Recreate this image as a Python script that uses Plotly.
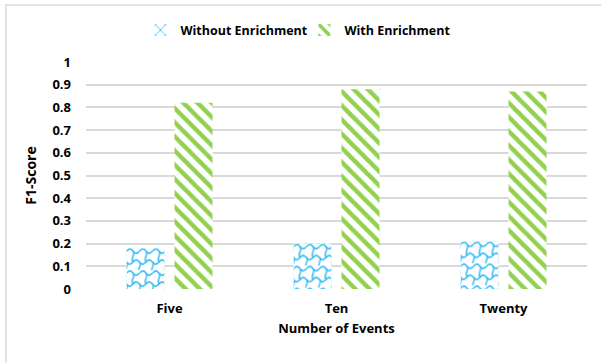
import base64
import plotly.graph_objects as go

categories = ["Five", "Ten", "Twenty"]
without_enrichment = [0.18, 0.20, 0.21]
with_enrichment = [0.82, 0.88, 0.87]
y_ticks = [0, 0.1, 0.2, 0.3, 0.4, 0.5, 0.6, 0.7, 0.8, 0.9, 1]
y_tick_labels = ["0", "0.1", "0.2", "0.3", "0.4", "0.5", "0.6", "0.7", "0.8", "0.9", "1"]

FONT = "Open Sans"
BLUE = "#1FB4F2"
GREEN = "#92D050"

W, H = 601, 363
M = dict(l=86, r=14, t=62, b=74)
PLOT_W = W - M["l"] - M["r"]
PLOT_H = H - M["t"] - M["b"]
X_RANGE = [-0.5, len(categories) - 0.5]
Y_RANGE = [0, 1]
PX_PER_X = PLOT_W / (X_RANGE[1] - X_RANGE[0])
PX_PER_Y = PLOT_H / (Y_RANGE[1] - Y_RANGE[0])

BAR_W = 0.2275   # width of one bar, in category units
BAR_GAP = 0.06   # space between the two bars of a group
x_pos = list(range(len(categories)))


def wave_fill_svg(w_px, h_px):
    """Blue interlocking wave fill on white, sized to one bar in pixels."""
    stroke = f'fill="none" stroke="{BLUE}" stroke-width="1.3"'
    tile = (
        '<pattern id="p" width="13" height="22" patternUnits="userSpaceOnUse">'
        f'<path {stroke} d="M0,3 C3,0 4,0 6.5,3 S10,6 13,3" />'
        f'<path {stroke} d="M6.5,3 C9.5,6 3.5,10 6.5,14" />'
        f'<path {stroke} d="M-6.5,14 C-3.5,11 -2.5,11 0,14 S3.5,17 6.5,14 S10,11 13,14 S16.5,17 19.5,14" />'
        f'<path {stroke} d="M0,14 C3,17 -3,21 0,25" />'
        f'<path {stroke} d="M13,14 C16,17 10,21 13,25" />'
        '</pattern>'
    )
    svg = (
        f'<svg xmlns="http://www.w3.org/2000/svg" width="{w_px:.1f}" height="{h_px:.1f}" '
        f'viewBox="0 0 {w_px:.1f} {h_px:.1f}" preserveAspectRatio="none">'
        f'<defs>{tile}</defs>'
        f'<rect x="0" y="0" width="{w_px:.1f}" height="{h_px:.1f}" fill="white" />'
        f'<rect x="0" y="0" width="{w_px:.1f}" height="{h_px:.1f}" fill="url(#p)" />'
        '</svg>'
    )
    return "data:image/svg+xml;base64," + base64.b64encode(svg.encode()).decode()


fig = go.Figure()
fig.add_trace(go.Bar(
    name="Without Enrichment", x=x_pos, y=without_enrichment,
    width=BAR_W, offset=-BAR_W - BAR_GAP / 2,
    marker=dict(color="white", line=dict(width=0),
                pattern=dict(shape="x", fgcolor=BLUE, bgcolor="white",
                             size=9, solidity=0.2, fillmode="replace")),
))
fig.add_trace(go.Bar(
    name="With Enrichment", x=x_pos, y=with_enrichment,
    width=BAR_W, offset=BAR_GAP / 2,
    marker=dict(color="white", line=dict(width=0),
                pattern=dict(shape="\\", fgcolor=GREEN, bgcolor="white",
                             size=10, solidity=0.45, fillmode="replace")),
))

# wave fill laid over each "Without Enrichment" bar
images = []
for xc, v in zip(x_pos, without_enrichment):
    x0 = xc - BAR_W - BAR_GAP / 2
    images.append(dict(
        source=wave_fill_svg(BAR_W * PX_PER_X, v * PX_PER_Y),
        xref="x", yref="y", x=x0, y=v, sizex=BAR_W, sizey=v,
        xanchor="left", yanchor="top", sizing="stretch", layer="above",
    ))

fig.update_layout(
    width=W, height=H,
    margin=M,
    paper_bgcolor="white", plot_bgcolor="white",
    barmode="overlay",
    font=dict(family=FONT, size=12, color="#000000"),
    showlegend=True,
    legend=dict(orientation="h", x=0.436, xanchor="center", y=1.073, yanchor="bottom",
                font=dict(family=FONT, size=12.5, color="#000000", weight="bold"),
                itemwidth=30, entrywidth=119),
    images=images,
    shapes=[dict(type="rect", xref="paper", yref="paper",
                 x0=-0.16, x1=1.3, y0=-0.6, y1=1.251,
                 line=dict(color="#D9D9D9", width=1.5), fillcolor="rgba(0,0,0,0)",
                 layer="below")],
)
fig.update_xaxes(
    range=X_RANGE, tickvals=x_pos, ticktext=categories,
    showgrid=False, zeroline=False, showline=False, ticks="", ticklabelstandoff=10,
    tickfont=dict(family=FONT, size=13, weight="bold"),
    title=dict(text="Number of Events", font=dict(family=FONT, size=13, weight="bold"),
               standoff=7),
)
fig.update_yaxes(
    range=Y_RANGE, tickvals=y_ticks, ticktext=y_tick_labels,
    showgrid=True, gridcolor="#D9D9D9", gridwidth=1.5,
    zeroline=False, showline=False, ticks="", ticklabelstandoff=14,
    tickfont=dict(family=FONT, size=13, weight="bold"),
    title=dict(text="F1-Score", font=dict(family=FONT, size=14, weight="bold"),
               standoff=12),
)

fig.write_html("out.html")
